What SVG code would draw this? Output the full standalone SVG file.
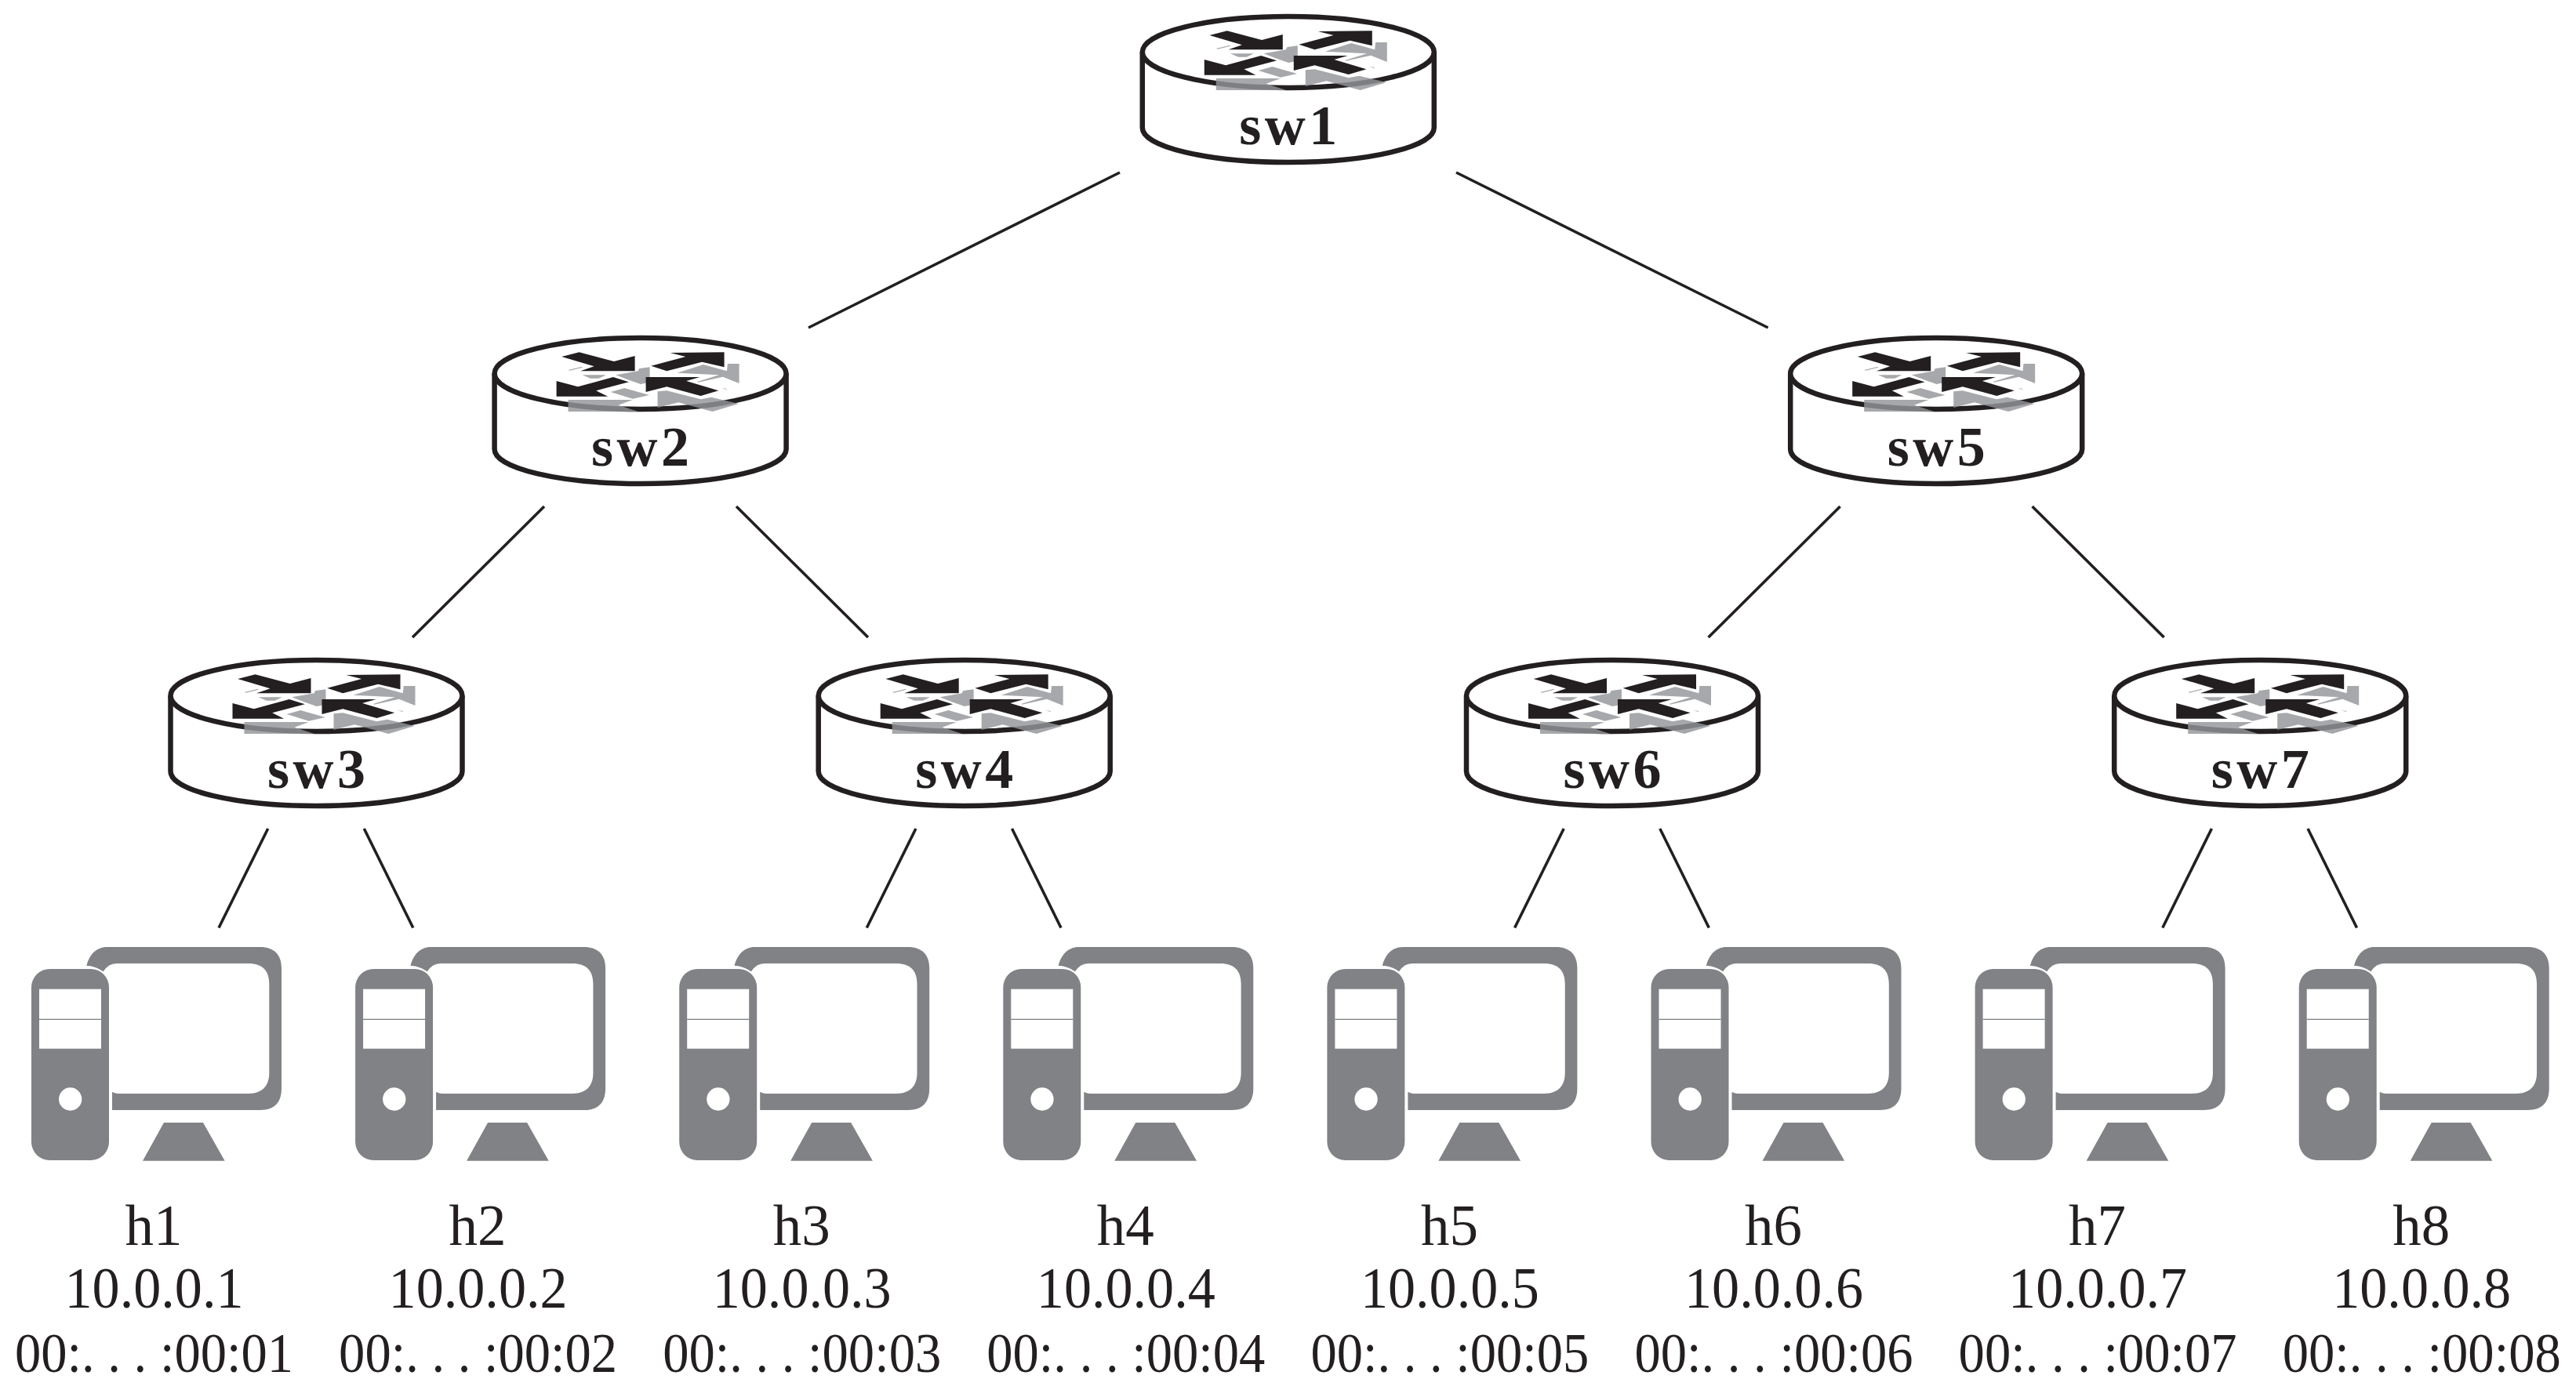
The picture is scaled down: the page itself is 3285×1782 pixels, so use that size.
<svg xmlns="http://www.w3.org/2000/svg" width="3285" height="1782" viewBox="0 0 3285 1782">
<style>
text{font-family:"Liberation Serif","Times New Roman",serif;fill:#231f20;text-anchor:middle}
.s{font-size:72px;font-weight:700}
.h{font-size:73px}
.m{font-size:71px}
.l{stroke:#231f20;stroke-width:3.6;fill:none}
.body{fill:#fff;stroke:#231f20;stroke-width:6.5}
.g{fill:#939598;fill-opacity:.82}
.b{fill:#231f20}
.pc{fill:#808285}
</style>
<defs>
<g id="router">
<path class="body" d="M-186 66.5V163A186 44 0 0 0 186 163V66.5"/>
<ellipse class="body" cx="0" cy="66.5" rx="186" ry="45.5"/>
<g transform="translate(-223,0) scale(.33333)">
<polygon class="g" points="393,186 445,173 447,176 400,188"/>
<polygon class="g" points="447,205 538,205 510,218 478,218"/>
<polygon class="g" points="575,205 660,190 665,180 705,175 705,233 670,240 625,224"/>
<polygon class="g" points="555,270 608,255 703,282 640,296"/>
<polygon class="g" points="810,197 910,165 1000,190 1003,162 1047,162 1047,237 985,212 890,233 888,230 970,205"/>
<polygon class="g" points="980,255 1000,258 998,261"/>
<polygon class="g" points="393,300 640,300 585,320 660,345 393,345"/>
<polygon class="g" points="735,268 770,265 900,298 940,290 1045,315 945,345 815,310 735,330"/>
<polygon class="b" points="368,135 435,118 568,153 648,132 648,190 440,190 492,172"/>
<polygon class="b" points="783,120 990,118 990,175 905,155 770,190 710,170 842,135"/>
<polygon class="b" points="348,228 430,250 565,213 625,232 500,265 545,287 348,287"/>
<polygon class="b" points="690,213 897,213 845,228 968,265 900,285 770,250 690,270"/>
</g>
</g>
<g id="pc" transform="translate(0,1180) scale(.33333)">
<rect class="pc" x="120" y="168" width="297" height="732" rx="70"/>
<rect x="150" y="245" width="237" height="228" fill="#fff"/>
<rect class="pc" x="150" y="359" width="237" height="4"/>
<circle cx="269" cy="666" r="44" fill="#fff"/>
<path class="pc" d="M331 155C345 105 375 84 410 84H995C1050 84 1077 115 1077 165V625C1077 680 1050 708 995 708H429V638Q440 645 460 645H950C1005 645 1030 615 1030 565V225C1030 175 1005 147 950 147H445Q415 147 395 178Q370 158 331 155Z"/>
<polygon class="pc" points="627,756 777,756 860,902 546,902"/>
</g>
</defs>
<g id="connectors">
<line class="l" x1="1428" y1="220" x2="1031" y2="418"/>
<line class="l" x1="1857" y1="220" x2="2254.6" y2="418"/>
<line class="l" x1="694" y1="646" x2="526" y2="813"/>
<line class="l" x1="939" y1="646" x2="1107" y2="813"/>
<line class="l" x1="2346.6" y1="646" x2="2178.6" y2="813"/>
<line class="l" x1="2591.6" y1="646" x2="2759.6" y2="813"/>
<line class="l" x1="341.7" y1="1057" x2="279" y2="1183.5"/>
<line class="l" x1="464.3" y1="1057" x2="526.8" y2="1183.5"/>
<line class="l" x1="1167.9" y1="1057" x2="1105.3" y2="1183.5"/>
<line class="l" x1="1290.5" y1="1057" x2="1353" y2="1183.5"/>
<line class="l" x1="1994.2" y1="1057" x2="1931.6" y2="1183.5"/>
<line class="l" x1="2116.8" y1="1057" x2="2179.3" y2="1183.5"/>
<line class="l" x1="2820.4" y1="1057" x2="2757.8" y2="1183.5"/>
<line class="l" x1="2943" y1="1057" x2="3005.5" y2="1183.5"/>
</g>
<g id="sw1" transform="translate(1642.8,0)"><use href="#router"/><text class="s" x="0" y="184" textLength="125">sw1</text></g>
<g id="sw2" transform="translate(816.6,410)"><use href="#router"/><text class="s" x="0" y="184" textLength="125">sw2</text></g>
<g id="sw3" transform="translate(403.5,821)"><use href="#router"/><text class="s" x="0" y="184" textLength="125">sw3</text></g>
<g id="sw4" transform="translate(1229.7,821)"><use href="#router"/><text class="s" x="0" y="184" textLength="125">sw4</text></g>
<g id="sw5" transform="translate(2469.2,410)"><use href="#router"/><text class="s" x="0" y="184" textLength="125">sw5</text></g>
<g id="sw6" transform="translate(2056,821)"><use href="#router"/><text class="s" x="0" y="184" textLength="125">sw6</text></g>
<g id="sw7" transform="translate(2882.2,821)"><use href="#router"/><text class="s" x="0" y="184" textLength="125">sw7</text></g>
<g id="h1" transform="translate(0,0)"><use href="#pc"/><text class="h" x="196" y="1588">h1</text><text class="h" x="196.5" y="1668" textLength="228" lengthAdjust="spacingAndGlyphs">10.0.0.1</text><text class="m" x="196.5" y="1750" textLength="355" lengthAdjust="spacingAndGlyphs">00:. . . :00:01</text></g>
<g id="h2" transform="translate(413.1,0)"><use href="#pc"/><text class="h" x="196" y="1588">h2</text><text class="h" x="196.5" y="1668" textLength="228" lengthAdjust="spacingAndGlyphs">10.0.0.2</text><text class="m" x="196.5" y="1750" textLength="355" lengthAdjust="spacingAndGlyphs">00:. . . :00:02</text></g>
<g id="h3" transform="translate(826.2,0)"><use href="#pc"/><text class="h" x="196" y="1588">h3</text><text class="h" x="196.5" y="1668" textLength="228" lengthAdjust="spacingAndGlyphs">10.0.0.3</text><text class="m" x="196.5" y="1750" textLength="355" lengthAdjust="spacingAndGlyphs">00:. . . :00:03</text></g>
<g id="h4" transform="translate(1239.3,0)"><use href="#pc"/><text class="h" x="196" y="1588">h4</text><text class="h" x="196.5" y="1668" textLength="228" lengthAdjust="spacingAndGlyphs">10.0.0.4</text><text class="m" x="196.5" y="1750" textLength="355" lengthAdjust="spacingAndGlyphs">00:. . . :00:04</text></g>
<g id="h5" transform="translate(1652.4,0)"><use href="#pc"/><text class="h" x="196" y="1588">h5</text><text class="h" x="196.5" y="1668" textLength="228" lengthAdjust="spacingAndGlyphs">10.0.0.5</text><text class="m" x="196.5" y="1750" textLength="355" lengthAdjust="spacingAndGlyphs">00:. . . :00:05</text></g>
<g id="h6" transform="translate(2065.5,0)"><use href="#pc"/><text class="h" x="196" y="1588">h6</text><text class="h" x="196.5" y="1668" textLength="228" lengthAdjust="spacingAndGlyphs">10.0.0.6</text><text class="m" x="196.5" y="1750" textLength="355" lengthAdjust="spacingAndGlyphs">00:. . . :00:06</text></g>
<g id="h7" transform="translate(2478.6,0)"><use href="#pc"/><text class="h" x="196" y="1588">h7</text><text class="h" x="196.5" y="1668" textLength="228" lengthAdjust="spacingAndGlyphs">10.0.0.7</text><text class="m" x="196.5" y="1750" textLength="355" lengthAdjust="spacingAndGlyphs">00:. . . :00:07</text></g>
<g id="h8" transform="translate(2891.7,0)"><use href="#pc"/><text class="h" x="196" y="1588">h8</text><text class="h" x="196.5" y="1668" textLength="228" lengthAdjust="spacingAndGlyphs">10.0.0.8</text><text class="m" x="196.5" y="1750" textLength="355" lengthAdjust="spacingAndGlyphs">00:. . . :00:08</text></g>
</svg>
